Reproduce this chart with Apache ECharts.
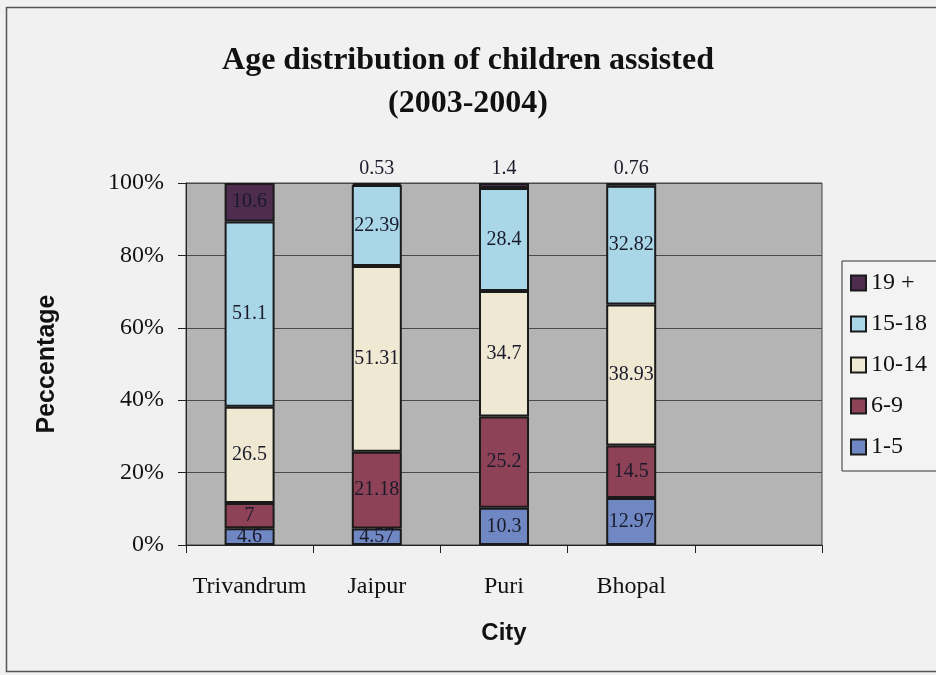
<!DOCTYPE html>
<html>
<head>
<meta charset="utf-8">
<script src="https://cdn.jsdelivr.net/npm/echarts@6/dist/echarts.min.js"></script>
<style>
html,body{margin:0;padding:0;background:#f1f1f1;}
#chart{width:936px;height:675px;}
</style>
</head>
<body>
<div id="chart"></div>
<script>
// categories and series values (percent of children per age group)
var cities = ['Trivandrum', 'Jaipur', 'Puri', 'Bhopal', ''];
var ageGroups = ['1-5', '6-9', '10-14', '15-18', '19 +'];
var age1to5   = [4.6, 4.57, 10.3, 12.97];
var age6to9   = [7, 21.18, 25.2, 14.5];
var age10to14 = [26.5, 51.31, 34.7, 38.93];
var age15to18 = [51.1, 22.39, 28.4, 32.82];
var age19plus = [10.6, 0.53, 1.4, 0.76];
var yTicks = [0, 20, 40, 60, 80, 100];

var colors = ['#6f88c4', '#8e4258', '#efe8d2', '#a9d7e8', '#4d2c4f'];
var serif = 'Liberation Serif';
var sans = 'Liberation Sans';

var groups = [age1to5, age6to9, age10to14, age15to18, age19plus];

// 100% stacked: normalise each column by its total
var totals = cities.map(function (c, i) {
    var s = 0;
    groups.forEach(function (g) { if (g[i] != null) s += g[i]; });
    return s;
});

var series = groups.map(function (vals, k) {
    return {
        name: ageGroups[k],
        type: 'bar',
        stack: 'all',
        barWidth: 50,
        itemStyle: {
            color: colors[k],
            borderColor: '#1a1a1a',
            borderWidth: 2
        },
        label: {
            show: true,
            position: 'inside',
            fontFamily: serif,
            fontSize: 20,
            color: '#1a1a2a',
            formatter: function (p) { return vals[p.dataIndex]; }
        },
        data: vals.map(function (v, i) {
            var d = { value: v / totals[i] * 100 };
            if (v < 3) {
                d.label = { position: 'top', distance: 4 };
            }
            return d;
        })
    };
});

var myChart = echarts.init(document.getElementById('chart'));
myChart.setOption({
    backgroundColor: '#f1f1f1',
    animation: false,
    title: {
        text: 'Age distribution of children assisted\n(2003-2004)',
        left: 'center',
        top: 34,
        textStyle: {
            fontFamily: serif,
            fontWeight: 'bold',
            fontSize: 32,
            lineHeight: 43,
            color: '#111'
        }
    },
    legend: {
        orient: 'vertical',
        left: 842,
        top: 261,
        padding: [10, 20, 12, 8],
        icon: 'rect',
        itemWidth: 15,
        itemHeight: 15,
        itemGap: 17,
        backgroundColor: '#f3f3f3',
        borderColor: '#333',
        borderWidth: 1,
        borderRadius: 0,
        data: ['19 +', '15-18', '10-14', '6-9', '1-5'],
        textStyle: { fontFamily: serif, fontSize: 24, color: '#111' }
    },
    grid: {
        left: 186,
        right: 114,
        top: 183,
        bottom: 130,
        show: true,
        backgroundColor: '#b4b4b4',
        borderColor: '#444',
        borderWidth: 1
    },
    xAxis: {
        type: 'category',
        data: cities,
        name: 'City',
        nameLocation: 'middle',
        nameGap: 76,
        nameTextStyle: { fontFamily: sans, fontWeight: 'bold', fontSize: 24, color: '#111' },
        axisLine: { lineStyle: { color: '#222', width: 1 } },
        axisTick: { show: true, length: 8, lineStyle: { color: '#222' } },
        axisLabel: { interval: 0, fontFamily: serif, fontSize: 24, color: '#111', margin: 30 }
    },
    yAxis: {
        type: 'value',
        min: yTicks[0],
        max: yTicks[yTicks.length - 1],
        interval: 20,
        name: 'Peccentage',
        nameLocation: 'middle',
        nameGap: 126,
        nameTextStyle: { fontFamily: sans, fontWeight: 'bold', fontSize: 25, color: '#111' },
        axisLine: { show: true, lineStyle: { color: '#222', width: 1 } },
        axisTick: { show: true, length: 8, lineStyle: { color: '#222' } },
        axisLabel: { fontFamily: serif, fontSize: 24, color: '#111', margin: 22, formatter: '{value}%' },
        splitLine: { lineStyle: { color: '#4a4a4a', width: 1 } }
    },
    graphic: [{
        type: 'rect',
        left: 4,
        top: 5,
        shape: { width: 940, height: 664 },
        style: { fill: 'none', stroke: '#555', lineWidth: 1.5 },
        z: -1
    }],
    series: series
});

window.onresize = function () {
    myChart.resize();
};
</script>
</body>
</html>
